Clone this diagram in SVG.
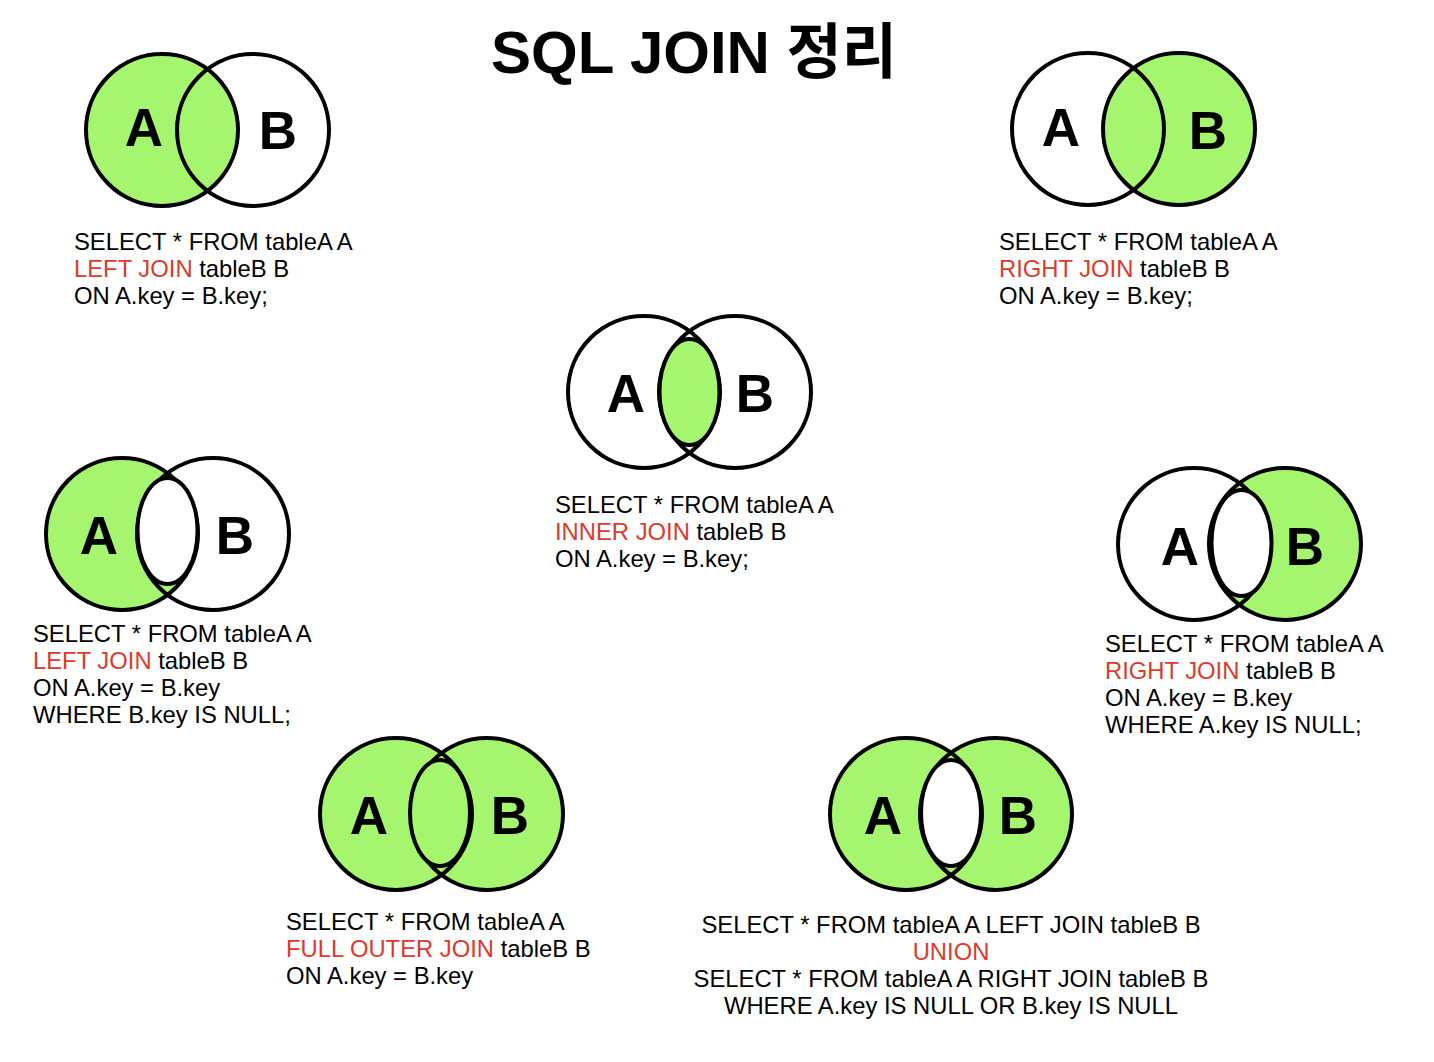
<svg xmlns="http://www.w3.org/2000/svg" width="1434" height="1062" viewBox="0 0 1434 1062">
<style>
.bg{fill:#ffffff}
.g{fill:#a6f56e}
.w{fill:#ffffff}
.s{fill:none;stroke:#000;stroke-width:4}
.e{stroke:#000;stroke-width:4}
.lbl{font-family:"Liberation Sans",Arial,sans-serif;font-weight:bold;font-size:53px;fill:#000;text-anchor:middle}
.sql{font-family:"Liberation Sans",Arial,sans-serif;font-size:23.8px;fill:#000}
.kw{fill:#dc3a2c}
.title{font-family:"Liberation Sans","Noto Sans CJK KR",Arial,sans-serif;font-weight:bold;font-size:60px;fill:#000;text-anchor:middle}
</style>
<rect class="bg" x="0" y="0" width="1434" height="1062"/>
<text class="title" x="694" y="73">SQL JOIN 정리</text>

<g id="left-join">
  <circle class="w" cx="253" cy="130" r="76"/>
  <circle class="g" cx="162" cy="130" r="76"/>
  <circle class="s" cx="162" cy="130" r="76"/>
  <circle class="s" cx="253" cy="130" r="76"/>
  <text class="lbl" x="144" y="146">A</text>
  <text class="lbl" x="278" y="149">B</text>
  <text class="sql" x="74" y="250">SELECT * FROM tableA A</text>
  <text class="sql" x="74" y="277"><tspan class="kw">LEFT JOIN</tspan> tableB B</text>
  <text class="sql" x="74" y="304">ON A.key = B.key;</text>
</g>

<g id="right-join">
  <circle class="w" cx="1088" cy="129" r="76"/>
  <circle class="g" cx="1179" cy="129" r="76"/>
  <circle class="s" cx="1088" cy="129" r="76"/>
  <circle class="s" cx="1179" cy="129" r="76"/>
  <text class="lbl" x="1061" y="146">A</text>
  <text class="lbl" x="1208" y="149">B</text>
  <text class="sql" x="999" y="250">SELECT * FROM tableA A</text>
  <text class="sql" x="999" y="277"><tspan class="kw">RIGHT JOIN</tspan> tableB B</text>
  <text class="sql" x="999" y="304">ON A.key = B.key;</text>
</g>

<g id="inner-join">
  <circle class="w" cx="644" cy="392" r="76"/>
  <circle class="w" cx="735" cy="392" r="76"/>
  <circle class="s" cx="644" cy="392" r="76"/>
  <circle class="s" cx="735" cy="392" r="76"/>
  <ellipse class="g e" cx="689.5" cy="392" rx="30" ry="53"/>
  <text class="lbl" x="626" y="412">A</text>
  <text class="lbl" x="755" y="412">B</text>
  <text class="sql" x="555" y="513">SELECT * FROM tableA A</text>
  <text class="sql" x="555" y="540"><tspan class="kw">INNER JOIN</tspan> tableB B</text>
  <text class="sql" x="555" y="567">ON A.key = B.key;</text>
</g>

<g id="left-excluding-join">
  <circle class="w" cx="213" cy="534" r="76"/>
  <circle class="g" cx="122" cy="534" r="76"/>
  <circle class="s" cx="122" cy="534" r="76"/>
  <circle class="s" cx="213" cy="534" r="76"/>
  <ellipse class="w e" cx="167.5" cy="531" rx="30" ry="53"/>
  <text class="lbl" x="99" y="554">A</text>
  <text class="lbl" x="235" y="554">B</text>
  <text class="sql" x="33" y="642">SELECT * FROM tableA A</text>
  <text class="sql" x="33" y="669"><tspan class="kw">LEFT JOIN</tspan> tableB B</text>
  <text class="sql" x="33" y="696">ON A.key = B.key</text>
  <text class="sql" x="33" y="723">WHERE B.key IS NULL;</text>
</g>

<g id="right-excluding-join">
  <circle class="w" cx="1194" cy="544" r="76"/>
  <circle class="g" cx="1285" cy="544" r="76"/>
  <circle class="s" cx="1194" cy="544" r="76"/>
  <circle class="s" cx="1285" cy="544" r="76"/>
  <ellipse class="w e" cx="1241.5" cy="543" rx="30" ry="53"/>
  <text class="lbl" x="1180" y="565">A</text>
  <text class="lbl" x="1305" y="565">B</text>
  <text class="sql" x="1105" y="652">SELECT * FROM tableA A</text>
  <text class="sql" x="1105" y="679"><tspan class="kw">RIGHT JOIN</tspan> tableB B</text>
  <text class="sql" x="1105" y="706">ON A.key = B.key</text>
  <text class="sql" x="1105" y="733">WHERE A.key IS NULL;</text>
</g>

<g id="full-outer-join">
  <circle class="g" cx="396" cy="814" r="76"/>
  <circle class="g" cx="487" cy="814" r="76"/>
  <circle class="s" cx="396" cy="814" r="76"/>
  <circle class="s" cx="487" cy="814" r="76"/>
  <ellipse class="g e" cx="440" cy="813" rx="30" ry="53"/>
  <text class="lbl" x="369" y="834">A</text>
  <text class="lbl" x="510" y="834">B</text>
  <text class="sql" x="286" y="930">SELECT * FROM tableA A</text>
  <text class="sql" x="286" y="957"><tspan class="kw">FULL OUTER JOIN</tspan> tableB B</text>
  <text class="sql" x="286" y="984">ON A.key = B.key</text>
</g>

<g id="full-outer-excluding-join">
  <circle class="g" cx="906" cy="814" r="76"/>
  <circle class="g" cx="996" cy="814" r="76"/>
  <circle class="s" cx="906" cy="814" r="76"/>
  <circle class="s" cx="996" cy="814" r="76"/>
  <ellipse class="w e" cx="951" cy="813" rx="30" ry="53"/>
  <text class="lbl" x="883" y="834">A</text>
  <text class="lbl" x="1018" y="834">B</text>
  <text class="sql" x="951" y="933" text-anchor="middle">SELECT * FROM tableA A LEFT JOIN tableB B</text>
  <text class="sql kw" x="951" y="960" text-anchor="middle">UNION</text>
  <text class="sql" x="951" y="987" text-anchor="middle">SELECT * FROM tableA A RIGHT JOIN tableB B</text>
  <text class="sql" x="951" y="1014" text-anchor="middle">WHERE A.key IS NULL OR B.key IS NULL</text>
</g>

<g id="connectors"/>
</svg>
